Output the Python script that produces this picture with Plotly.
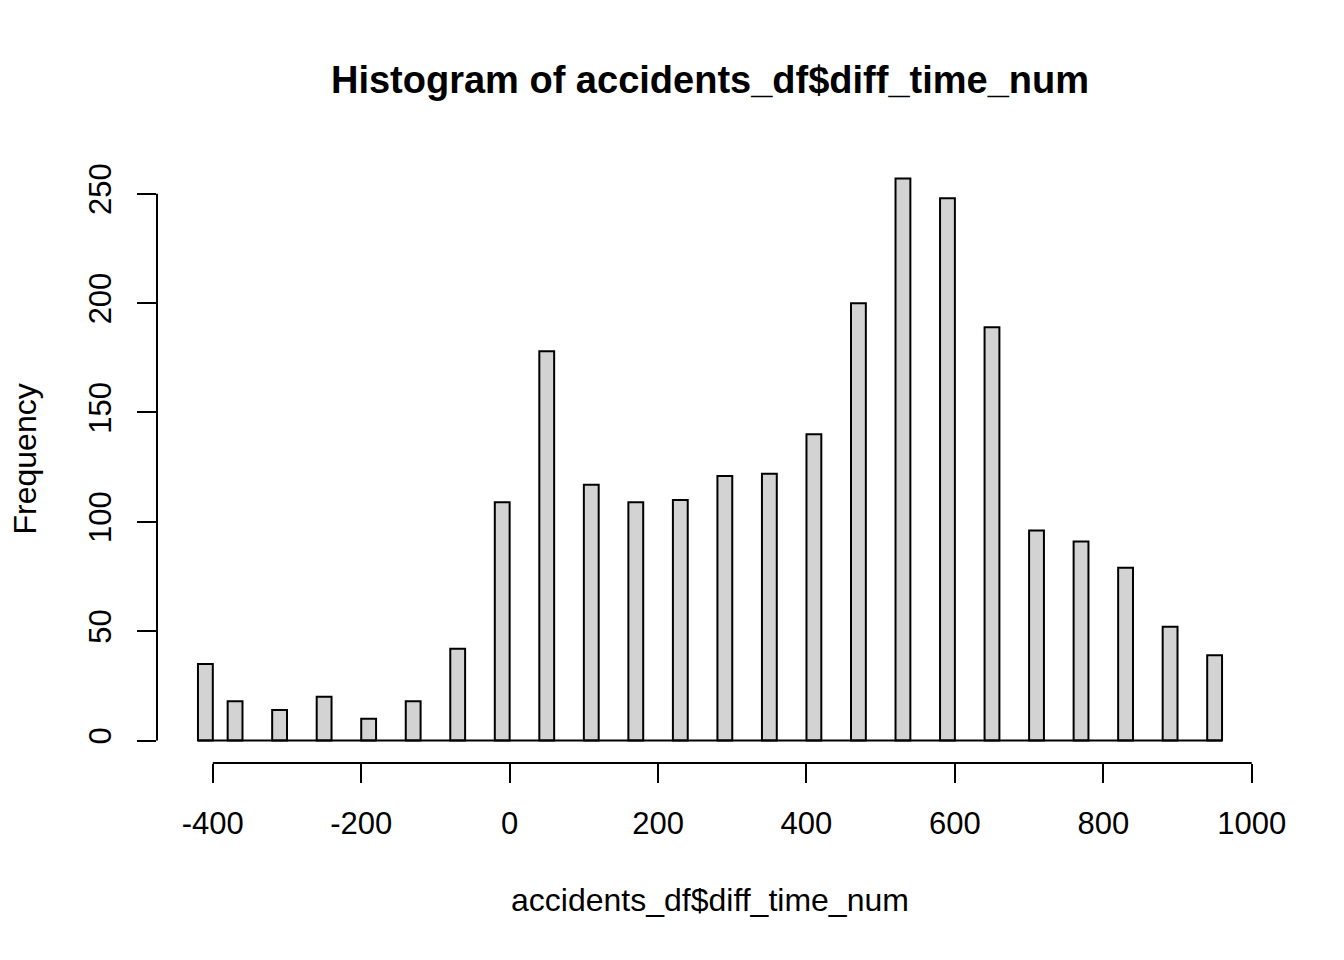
import plotly.graph_objects as go

# histogram bins that have data (left edge of each 20-wide bin) and counts
bin_left = [-420, -380, -320, -260, -200, -140, -80, -20, 40, 100, 160, 220,
            280, 340, 400, 460, 520, 580, 640, 700, 760, 820, 880, 940]
counts = [35, 18, 14, 20, 10, 18, 42, 109, 178, 117, 109, 110,
          121, 122, 140, 200, 257, 248, 189, 96, 91, 79, 52, 39]
bin_width = 20

x_ticks = [-400, -200, 0, 200, 400, 600, 800, 1000]
y_ticks = [0, 50, 100, 150, 200, 250]

title = "Histogram of accidents_df$diff_time_num"
x_label = "accidents_df$diff_time_num"
y_label = "Frequency"

FONT = "Arial, Liberation Sans, sans-serif"

# R style: 4% padding around the data range
x_lo, x_hi = bin_left[0], bin_left[-1] + bin_width
y_lo, y_hi = 0, max(counts)
xpad = (x_hi - x_lo) * 0.04
ypad = (y_hi - y_lo) * 0.04

centers = [b + bin_width / 2 for b in bin_left]

fig = go.Figure()

# zero-height empty bins show up as a baseline in R
fig.add_trace(go.Scatter(
    x=[x_lo, x_hi], y=[0, 0], mode="lines",
    line=dict(color="black", width=2), hoverinfo="skip"
))

fig.add_trace(go.Bar(
    x=centers, y=counts, width=bin_width,
    marker=dict(color="#D3D3D3", line=dict(color="black", width=2)),
))

# page body has an 8px margin, so offsets below are shifted by it
fig.update_layout(
    width=1344, height=960,
    margin=dict(l=149, r=89, t=148, b=205),
    plot_bgcolor="white", paper_bgcolor="white",
    showlegend=False,
    font=dict(family=FONT, size=31, color="black"),
    title=dict(text="<b>" + title + "</b>", x=0.5, xref="paper",
               y=1 - 72 / 960, yref="container", yanchor="middle",
               font=dict(size=38, color="black")),
)

fig.update_xaxes(
    range=[x_lo - xpad, x_hi + xpad], tickvals=x_ticks,
    ticktext=[str(v) for v in x_ticks],
    showgrid=False, zeroline=False, showline=False,
    ticks="outside", ticklen=19, tickwidth=2, tickcolor="black",
    tickfont=dict(size=31), ticklabelstandoff=14,
)
fig.update_yaxes(
    range=[y_lo - ypad, y_hi + ypad], tickvals=y_ticks,
    ticktext=[str(v) for v in y_ticks],
    showgrid=False, zeroline=False, showline=False,
    ticks="outside", ticklen=19, tickwidth=2, tickcolor="black",
    tickangle=-90, tickfont=dict(size=31), ticklabelstandoff=14,
)

# axis lines only span the tick range, like base R
fig.add_shape(type="line", xref="x", yref="paper",
              x0=x_ticks[0], x1=x_ticks[-1], y0=0, y1=0,
              line=dict(color="black", width=2))
fig.add_shape(type="line", xref="paper", yref="y",
              x0=0, x1=0, y0=y_ticks[0], y1=y_ticks[-1],
              line=dict(color="black", width=2))

fig.add_annotation(text=x_label, xref="paper", yref="paper", x=0.5, y=0,
                   yshift=-137, yanchor="middle", showarrow=False,
                   font=dict(size=32))
fig.add_annotation(text=y_label, xref="paper", yref="paper", x=0, y=0.5,
                   xshift=-133, xanchor="center", textangle=-90,
                   showarrow=False, font=dict(size=32))

fig.write_html("out.html")
